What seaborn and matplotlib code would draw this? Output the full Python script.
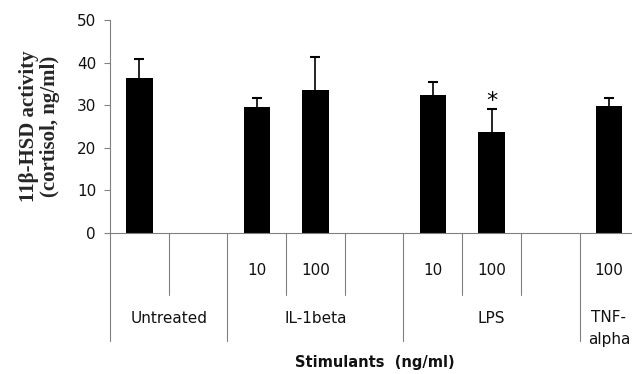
import matplotlib
matplotlib.use("Agg")
import matplotlib.pyplot as plt
import matplotlib.transforms as mtransforms
import pandas as pd
import seaborn as sns

# slots along the x axis (blank slots keep the Excel-style spacing)
slots = ["Untreated", "gap1", "IL10", "IL100", "gap2", "LPS10", "LPS100", "gap3", "TNF100"]
dose_labels = ["", "", "10", "100", "", "10", "100", "", "100"]
groups = ["Untreated", "IL-1beta", "LPS", "TNF-\nalpha"]
group_spans = [(0, 1), (2, 4), (5, 7), (8, 8)]

bar_slots = ["Untreated", "IL10", "IL100", "LPS10", "LPS100", "TNF100"]
means = [36.5, 29.5, 33.5, 32.5, 23.6, 29.8]
errors = [4.4, 2.2, 7.8, 2.9, 5.4, 1.9]
significant = ["LPS100"]

short_dividers = [0.5, 2.5, 3.5, 5.5, 6.5]
long_dividers = [-0.5, 1.5, 4.5, 7.5, 8.5]

df = pd.DataFrame({"slot": bar_slots, "mean": means, "err": errors})

sns.set_style("white")
fig = plt.figure(figsize=(6.32, 3.74), dpi=100)
ax = fig.add_axes([0.174, 0.377, 0.836, 0.5695])

sns.barplot(data=df, x="slot", y="mean", order=slots, color="black",
            width=0.45, errorbar=None, saturation=1, linewidth=0, ax=ax)

# symmetric error bars: the lower half hides inside the black bar
xpos = [slots.index(s) for s in df["slot"]]
ax.errorbar(xpos, df["mean"], yerr=df["err"], fmt="none",
            ecolor="black", elinewidth=1.2, capsize=3.5, capthick=1.5)

for s in significant:
    row = df[df["slot"] == s].iloc[0]
    ax.text(slots.index(s), row["mean"] + row["err"] - 0.3, "*", ha="center",
            va="bottom", fontsize=16, color="black")

ax.set_xlim(-0.5, 8.5)
ax.set_ylim(0, 50)
ax.set_yticks(range(0, 51, 10))
ax.tick_params(axis="y", labelsize=11, length=4, width=0.8, color="#808080",
               direction="out", left=True, pad=6, labelcolor="#111111")
ax.set_xticks([])
ax.set_xlabel("")
for side in ["top", "right"]:
    ax.spines[side].set_visible(False)
for side in ["left", "bottom"]:
    ax.spines[side].set_color("#808080")
    ax.spines[side].set_linewidth(0.8)

ax.set_ylabel("11β-HSD activity\n(cortisol, ng/ml)", family="Liberation Serif",
              fontweight="bold", fontsize=15, va="center", linespacing=1.05)
ax.yaxis.set_label_coords(-0.133, 0.5)

# multi-level category axis
trans = mtransforms.blended_transform_factory(ax.transData, ax.transAxes)
line_kw = dict(color="#808080", lw=0.8, clip_on=False, transform=trans)
for x in short_dividers:
    ax.plot([x, x], [0, -0.29], **line_kw)
for x in long_dividers:
    ax.plot([x, x], [0, -0.507], **line_kw)

for i, lab in enumerate(dose_labels):
    if lab:
        ax.text(i, -0.174, lab, transform=trans, ha="center", va="center",
                fontsize=11, color="#111111")
for name, (a, b) in zip(groups, group_spans):
    y = -0.40 if "\n" not in name else -0.45
    ax.text((a + b) / 2, y, name, transform=trans, ha="center", va="center",
            fontsize=11, color="#111111", linespacing=1.6)

fig.text(375 / 632, 1 - 363 / 374, "Stimulants  (ng/ml)", ha="center", va="center",
         fontsize=10.5, fontweight="bold", color="#111111")

fig.savefig("out.png", dpi=100, facecolor="white")
